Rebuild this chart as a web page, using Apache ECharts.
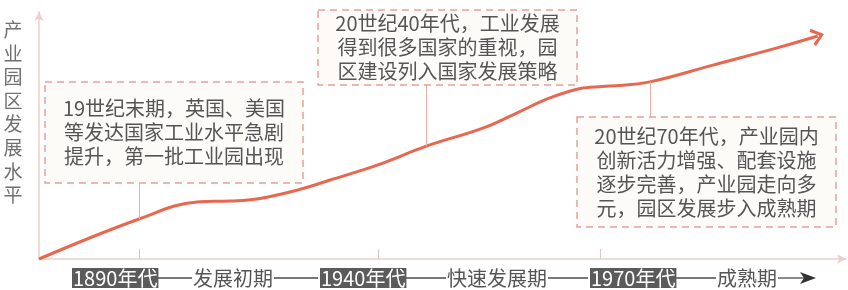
<!DOCTYPE html>
<html>
<head>
<meta charset="utf-8">
<script src="https://cdn.jsdelivr.net/npm/echarts@6/dist/echarts.min.js"></script>
<style>
  html, body { margin: 0; padding: 0; background: #fff; }
  #chart { width: 848px; height: 290px; }
</style>
</head>
<body>
<div id="chart"></div>
<script>
// curve of the development level (x: 0-100 along the timeline, y: 0-100 level)
const curveX = [0, 12.4, 19.6, 23.7, 27.0, 32.0, 36.1, 42.0, 48.0, 55.0, 59.2, 63.3, 67.4, 70.8, 75.7, 83.5, 91.8, 96.5]
const curveY = [0, 16.2, 23.1, 23.5, 24.3, 27.9, 32.0, 38.1, 45.7, 53.0, 59.1, 65.2, 69.2, 70.0, 71.7, 78.5, 85.8, 90.3]

// timeline ticks and the strip of labels under the axis
const tickPos = [12.4, 42.0, 69.6]
const eraLabels = ['1890年代', '1940年代', '1970年代']
const phaseLabels = ['发展初期', '快速发展期', '成熟期']

const yTitle = '产业园区发展水平'

// callouts: where they hook on the curve and where the leader line meets the box
const noteAnchorX = [12.4, 48.0, 75.7]
const noteEdgeY = [30.8, 70.4, 57.5]
const notes = [
  ['19世纪末期，英国、美国', '等发达国家工业水平急剧', '提升，第一批工业园出现'],
  ['20世纪40年代，工业发展', '得到很多国家的重视，园', '区建设列入国家发展策略'],
  ['20世纪70年代，产业园内', '创新活力增强、配套设施', '逐步完善，产业园走向多', '元，园区发展步入成熟期'],
]

const RED = '#e8674f'
const AXIS = '#edcfc5'
const TEXT = '#555'
const FONT = 'Noto Sans CJK SC'
const CHEVRON = 'path://M0,13 L10,0 L20,13 L17,15 L10,5.5 L3,15 Z'

// layout in pixels
const boxes = [
  { x: 45, y: 82, w: 258, h: 101 },
  { x: 318, y: 10, w: 259, h: 75 },
  { x: 577, y: 117, w: 259, h: 110 },
]
const STRIP_Y = 278
const eraBoxX = [72, 320, 590]      // left edge of each dark label
const phaseX = [193, 447, 717]      // left edge of each phase label
const stripEnd = 816

const chart = echarts.init(document.getElementById('chart'), null, { renderer: 'canvas' })

const data = curveX.map((x, i) => {
  const p = { value: [x, curveY[i]] }
  if (i === curveX.length - 1) {
    p.symbol = CHEVRON
    p.symbolSize = [18, 13]
    p.symbolRotate = -72
  }
  return p
})

function curveAt(x) {
  return curveY[curveX.indexOf(x)]
}

const leaders = noteAnchorX.map((x, i) => [
  { coord: [x, curveAt(x)] },
  { coord: [x, noteEdgeY[i]] },
])

const graphics = []
boxes.forEach((b, i) => {
  graphics.push({
    type: 'rect', shape: { x: b.x, y: b.y, width: b.w, height: b.h }, z: 10,
    style: { fill: '#fdfbf8', stroke: '#e2a39b', lineWidth: 1.5, lineDash: [7, 5] },
  })
  graphics.push({
    type: 'text', x: b.x + b.w / 2, y: b.y + b.h / 2, z: 11,
    style: {
      text: notes[i].join('\n'), fill: TEXT, fontSize: 20, fontFamily: FONT,
      lineHeight: 24, align: 'center', verticalAlign: 'middle',
    },
  })
})
graphics.push({
  type: 'text', x: 13, y: 18,
  style: {
    text: yTitle.split('').join('\n'), fill: '#707070', fontSize: 19, fontFamily: FONT,
    lineHeight: 23.6, align: 'center', verticalAlign: 'top',
  },
})

// bottom strip: dark era labels, phase names, joined by long dashes
const dash = (x1, x2) => ({
  type: 'line', shape: { x1, y1: STRIP_Y, x2, y2: STRIP_Y },
  style: { stroke: '#4a4a4a', lineWidth: 1.3 },
})
eraLabels.forEach((e, i) => {
  graphics.push({
    type: 'text', x: eraBoxX[i], y: STRIP_Y, z: 5,
    style: {
      text: e, fill: '#fff', fontSize: 20, fontFamily: FONT, verticalAlign: 'middle',
      backgroundColor: '#5b5b5b', padding: [0, 1, 0, 1],
    },
  })
  graphics.push({
    type: 'text', x: phaseX[i], y: STRIP_Y,
    style: { text: phaseLabels[i], fill: TEXT, fontSize: 20, fontFamily: FONT, verticalAlign: 'middle' },
  })
  const w = e.length ? 84 : 0
  graphics.push(dash(eraBoxX[i] + w + 2, phaseX[i] - 1))
  const phaseW = phaseLabels[i].length * 20
  const next = i < eraLabels.length - 1 ? eraBoxX[i + 1] - 2 : stripEnd - 12
  graphics.push(dash(phaseX[i] + phaseW + 1, next))
})
graphics.push({
  type: 'polygon',
  shape: { points: [[stripEnd - 16, STRIP_Y - 6], [stripEnd, STRIP_Y], [stripEnd - 16, STRIP_Y + 6], [stripEnd - 12, STRIP_Y]] },
  style: { fill: '#333' },
})

chart.setOption({
  backgroundColor: '#fff',
  animation: false,
  grid: { left: 39, right: 2, top: 12, bottom: 31 },
  xAxis: {
    type: 'value', min: 0, max: 100,
    axisLine: { show: true, onZero: false, symbol: ['none', 'arrow'], symbolSize: [7, 9], lineStyle: { color: AXIS, width: 1.5 } },
    axisTick: { show: true, inside: true, length: 10, customValues: tickPos, lineStyle: { color: '#d9c9c2' } },
    axisLabel: { show: false },
    splitLine: { show: false },
  },
  yAxis: {
    type: 'value', min: 0, max: 100,
    axisLine: { show: true, onZero: false, symbol: ['none', 'arrow'], symbolSize: [7, 9], lineStyle: { color: AXIS, width: 1.5 } },
    axisTick: { show: false },
    axisLabel: { show: false },
    splitLine: { show: false },
  },
  series: [{
    type: 'line', smooth: 0.4, symbol: 'none', data,
    lineStyle: { color: RED, width: 3 },
    itemStyle: { color: RED },
    markLine: {
      silent: true, symbol: 'none', label: { show: false },
      lineStyle: { color: '#e6b2a8', width: 1, type: 'solid' },
      data: leaders,
    },
  }],
  graphic: graphics,
})
</script>
</body>
</html>
